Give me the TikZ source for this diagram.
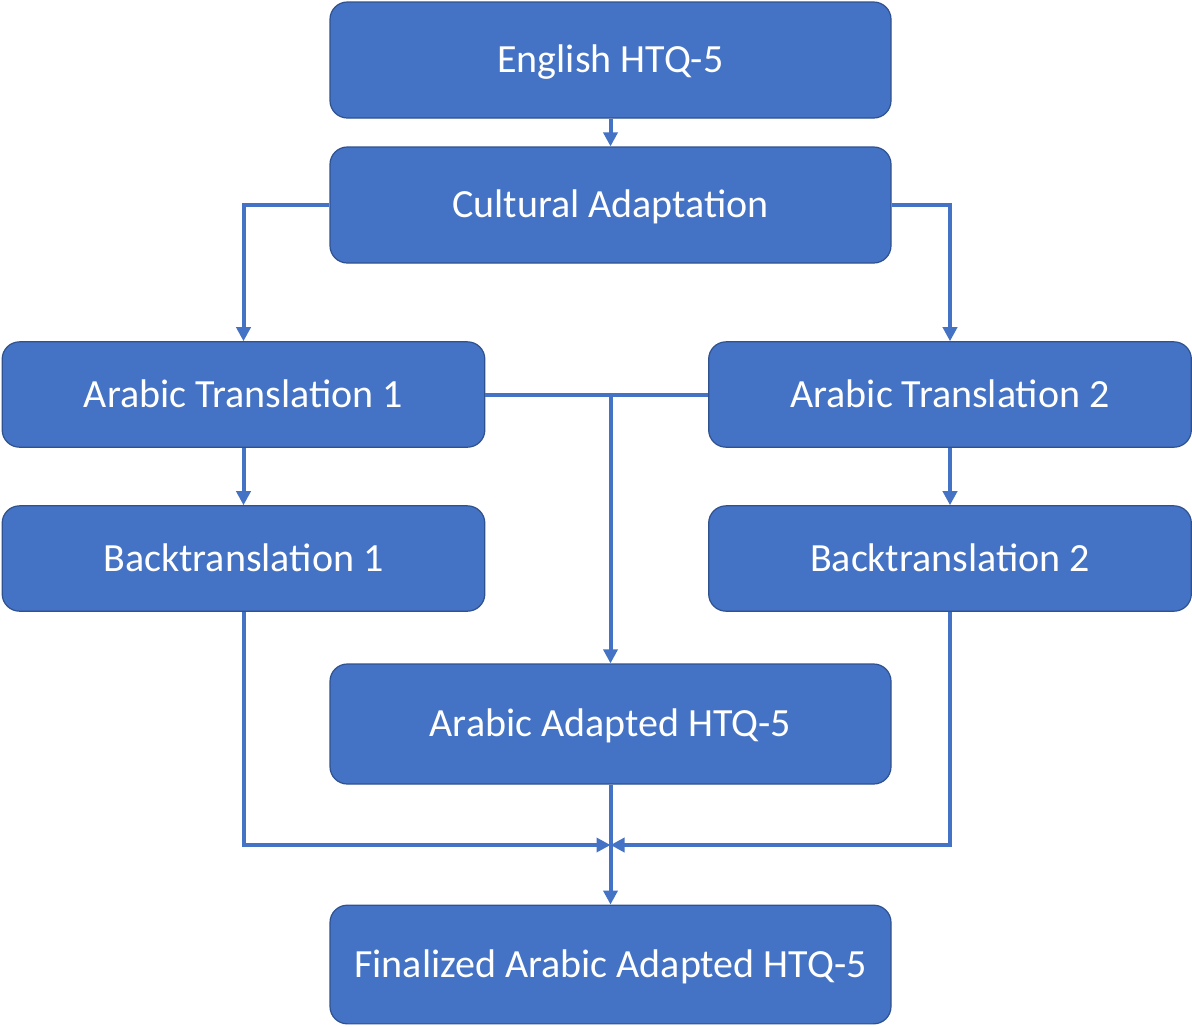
\documentclass[tikz,border=0pt]{standalone}
\usepackage{fontspec}
\setmainfont{Carlito}
\usetikzlibrary{arrows.meta}
\definecolor{boxfill}{HTML}{4472C4}
\definecolor{boxline}{HTML}{2F528F}
\definecolor{conn}{HTML}{4472C4}
\begin{document}
\begin{tikzpicture}[x=0.75pt,y=-0.75pt,
  box/.style={draw=boxline, line width=0.9pt, fill=boxfill, rounded corners=13pt,
    text=white, font=\fontsize{30}{34}\selectfont, inner sep=0pt, anchor=center,
    text height=24pt, text depth=5.2pt},
  wide/.style={box, minimum width=420.75pt, minimum height=87pt},
  side/.style={box, minimum width=362pt, minimum height=79pt},
  conn/.style={draw=conn, line width=3pt},
  arrow/.style={conn, -{Triangle[width=10.5pt,length=10.5pt]}}]
\useasboundingbox (0,0) rectangle (1192,1026);
\node[wide] (eng) at (610.5,60) {English HTQ-5};
\node[wide] (cult) at (610.5,205) {Cultural Adaptation};
\node[side] (at1) at (243.5,394.5) {Arabic Translation 1};
\node[side] (at2) at (950,394.5) {Arabic Translation 2};
\node[side] (bt1) at (243.5,558.5) {Backtranslation 1};
\node[side] (bt2) at (950,558.5) {Backtranslation 2};
\node[wide, minimum height=90pt] (aah) at (610.5,724) {Arabic Adapted HTQ-5};
\node[wide, minimum height=89pt] (fin) at (610.5,964.5) {Finalized Arabic Adapted HTQ-5};
\coordinate (j) at (610.5,845);
\coordinate (k) at (610.5,394.5);
\draw[arrow] (eng.south) -- (cult.north);
\draw[arrow] (cult.west) -| (at1.north);
\draw[arrow] (cult.east) -| (at2.north);
\draw[conn] (at1.east) -- (at2.west);
\draw[arrow] (k) -- (aah.north);
\draw[arrow] (at1.south) -- (bt1.north);
\draw[arrow] (at2.south) -- (bt2.north);
\draw[arrow] (bt1.south) |- (j);
\draw[arrow] (bt2.south) |- (j);
\draw[arrow] (aah.south) -- (fin.north);
\end{tikzpicture}
\end{document}
